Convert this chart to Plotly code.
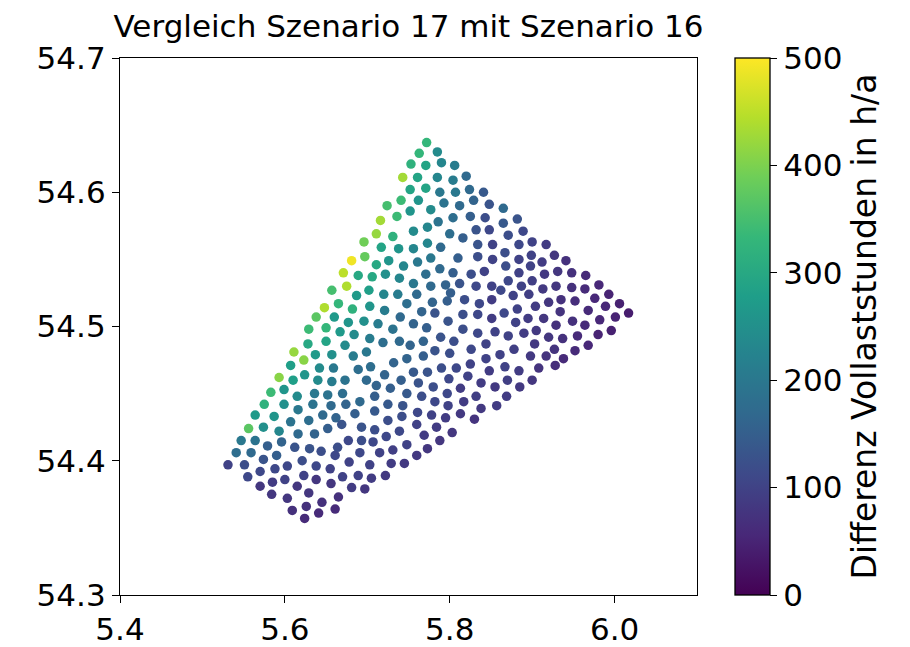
import plotly.graph_objects as go

# ---- data: turbine positions (lon, lat) and difference in full-load hours (h/a) ----
lon_north = [5.772, 5.763, 5.785, 5.753, 5.771, 5.790, 5.806, 5.743, 5.761, 5.785,
             5.804, 5.820, 5.752, 5.771, 5.788, 5.807, 5.824, 5.841, 5.724, 5.741,
             5.762, 5.793, 5.812, 5.829, 5.848, 5.752, 5.736, 5.777, 5.716, 5.786,
             5.804, 5.825, 5.843, 5.773, 5.756, 5.711, 5.731, 5.800, 5.816, 5.832,
             5.848, 5.696, 5.717, 5.738, 5.756, 5.773, 5.789, 5.834, 5.852, 5.697,
             5.711, 5.726, 5.744, 5.761, 5.777, 5.810, 5.834, 5.852, 5.689, 5.706,
             5.722, 5.771, 5.788, 5.804, 5.826, 5.842, 5.756, 5.739, 5.777, 5.795,
             5.812, 5.832, 5.851, 5.687, 5.702, 5.720, 5.737, 5.760, 5.801, 5.818,
             5.851, 5.836, 5.703, 5.721, 5.748, 5.779, 5.797, 5.766, 5.782, 5.696,
             5.713, 5.740, 5.756, 5.798, 5.816, 5.834, 5.851]
lat_north = [54.637, 54.629, 54.630, 54.621, 54.620, 54.622, 54.620, 54.611, 54.611, 54.611,
             54.609, 54.612, 54.602, 54.603, 54.600, 54.600, 54.602, 54.600, 54.590, 54.594,
             54.594, 54.592, 54.590, 54.594, 54.591, 54.586, 54.582, 54.587, 54.579, 54.578,
             54.581, 54.582, 54.581, 54.574, 54.571, 54.569, 54.567, 54.569, 54.566, 54.572,
             54.572, 54.563, 54.559, 54.558, 54.558, 54.562, 54.559, 54.561, 54.561, 54.552,
             54.546, 54.549, 54.545, 54.548, 54.551, 54.551, 54.552, 54.550, 54.538, 54.537,
             54.539, 54.539, 54.543, 54.540, 54.539, 54.541, 54.532, 54.536, 54.530, 54.531,
             54.532, 54.530, 54.530, 54.523, 54.527, 54.524, 54.524, 54.524, 54.525, 54.520,
             54.520, 54.517, 54.515, 54.512, 54.517, 54.518, 54.519, 54.511, 54.510, 54.504,
             54.502, 54.507, 54.502, 54.504, 54.509, 54.509, 54.506]
diff_north = [330, 330, 240, 320, 290, 230, 210, 430, 290, 230,
              210, 170, 290, 290, 200, 200, 170, 140, 350, 340,
              260, 190, 170, 160, 130, 260, 340, 240, 430, 190,
              180, 150, 120, 230, 240, 420, 320, 180, 150, 130,
              110, 390, 290, 260, 230, 230, 170, 130, 100, 380,
              300, 260, 230, 200, 200, 150, 120, 100, 300, 300,
              250, 180, 170, 150, 120, 100, 200, 230, 170, 160,
              130, 110, 100, 270, 280, 230, 210, 170, 150, 120,
              90, 110, 260, 210, 180, 160, 150, 160, 130, 250,
              210, 170, 160, 130, 120, 110, 90]

lon_east = [5.865, 5.882, 5.865, 5.889, 5.871, 5.900, 5.917, 5.884, 5.867, 5.899,
            5.884, 5.927, 5.912, 5.941, 5.868, 5.898, 5.884, 5.915, 5.931, 5.948,
            5.965, 5.871, 5.900, 5.887, 5.862, 5.913, 5.929, 5.948, 5.964, 5.981,
            5.877, 5.896, 5.935, 5.952, 5.976, 5.993, 5.904, 5.920, 5.866, 5.882,
            5.968, 5.989, 6.006, 6.017, 5.880, 5.895, 5.914, 5.934, 5.949, 5.929,
            5.964, 5.982, 6.001]
lat_east = [54.588, 54.580, 54.577, 54.571, 54.568, 54.563, 54.561, 54.561, 54.555, 54.553,
            54.550, 54.553, 54.548, 54.549, 54.545, 54.545, 54.540, 54.539, 54.541, 54.540,
            54.538, 54.534, 54.534, 54.530, 54.527, 54.528, 54.530, 54.529, 54.528, 54.531,
            54.523, 54.524, 54.520, 54.519, 54.521, 54.524, 54.515, 54.518, 54.510, 54.513,
            54.512, 54.515, 54.517, 54.510, 54.503, 54.506, 54.506, 54.511, 54.504, 54.501,
            54.501, 54.505, 54.507]
diff_east = [170, 130, 140, 110, 120, 100, 90, 110, 120, 100,
             100, 80, 90, 70, 120, 100, 100, 85, 80, 70,
             60, 110, 95, 100, 110, 85, 80, 70, 60, 55,
             100, 95, 70, 65, 55, 50, 90, 80, 110, 100,
             60, 55, 45, 40, 100, 90, 80, 75, 70, 70,
             60, 55, 50]

lon_edge = [5.681, 5.671, 5.675, 5.657, 5.648, 5.665, 5.682, 5.638, 5.660, 5.677]
lat_edge = [54.549, 54.540, 54.530, 54.527, 54.514, 54.517, 54.513, 54.507, 54.507, 54.503]
diff_edge = [490, 450, 440, 350, 440, 330, 320, 370, 270, 260]

lon_west = [5.629, 5.650, 5.667, 5.684, 5.611, 5.628, 5.623, 5.637, 5.650, 5.657,
            5.673, 5.683, 5.607, 5.624, 5.642, 5.659, 5.593, 5.610, 5.640, 5.657,
            5.673, 5.583, 5.599, 5.615, 5.636, 5.652, 5.670, 5.575, 5.599, 5.616,
            5.634, 5.656, 5.674, 5.564, 5.587, 5.607, 5.629, 5.646, 5.662, 5.685,
            5.556, 5.574, 5.593, 5.616, 5.636, 5.652, 5.669, 5.547, 5.564, 5.579,
            5.596, 5.612, 5.630, 5.644, 5.664, 5.677, 5.541, 5.559, 5.574, 5.590,
            5.621, 5.638, 5.655, 5.661, 5.678, 5.531, 5.551, 5.570, 5.588, 5.603,
            5.623, 5.555, 5.585, 5.570, 5.600, 5.615, 5.656, 5.670, 5.681, 5.638,
            5.584, 5.603, 5.629, 5.645, 5.665, 5.609, 5.626, 5.641, 5.661, 5.624]
lat_west = [54.498, 54.499, 54.496, 54.494, 54.481, 54.487, 54.475, 54.479, 54.489, 54.479,
            54.486, 54.478, 54.471, 54.464, 54.469, 54.469, 54.462, 54.460, 54.460, 54.459,
            54.460, 54.451, 54.453, 54.448, 54.450, 54.449, 54.450, 54.442, 54.442, 54.438,
            54.442, 54.441, 54.442, 54.434, 54.433, 54.429, 54.430, 54.434, 54.432, 54.435,
            54.424, 54.425, 54.422, 54.420, 54.420, 54.424, 54.427, 54.415, 54.415, 54.411,
            54.414, 54.410, 54.409, 54.407, 54.410, 54.415, 54.406, 54.406, 54.401, 54.404,
            54.400, 54.396, 54.394, 54.404, 54.399, 54.397, 54.397, 54.392, 54.394, 54.396,
            54.389, 54.388, 54.384, 54.381, 54.386, 54.381, 54.383, 54.388, 54.380, 54.386,
            54.375, 54.372, 54.376, 54.369, 54.373, 54.363, 54.366, 54.361, 54.364, 54.357]
diff_west = [340, 330, 270, 240, 420, 300, 410, 270, 290, 250,
             240, 210, 280, 260, 240, 200, 410, 280, 240, 210,
             190, 340, 260, 240, 200, 190, 180, 320, 250, 200,
             190, 170, 160, 270, 260, 190, 180, 170, 160, 150,
             370, 250, 230, 170, 160, 150, 130, 200, 190, 150,
             160, 130, 130, 120, 120, 110, 180, 170, 130, 150,
             120, 110, 100, 110, 100, 100, 120, 110, 110, 110,
             100, 110, 90, 80, 100, 80, 80, 100, 90, 80,
             80, 80, 80, 70, 70, 70, 70, 60, 60, 60]

lon_centre = [5.731, 5.772, 5.816, 5.834, 5.855, 5.703, 5.719, 5.739, 5.752, 5.768,
              5.789, 5.805, 5.826, 5.844, 5.699, 5.732, 5.748, 5.768, 5.782, 5.800,
              5.844, 5.689, 5.704, 5.721, 5.756, 5.773, 5.790, 5.808, 5.825, 5.848,
              5.699, 5.711, 5.728, 5.741, 5.762, 5.780, 5.799, 5.822, 5.838, 5.855,
              5.691, 5.709, 5.748, 5.766, 5.797, 5.813, 5.832, 5.709, 5.725, 5.743,
              5.782, 5.798, 5.817, 5.838, 5.693, 5.725, 5.742, 5.761, 5.778, 5.795,
              5.813, 5.830, 5.709, 5.739, 5.760, 5.784, 5.803, 5.693, 5.707, 5.723,
              5.748, 5.769, 5.788, 5.773, 5.691, 5.715, 5.731, 5.760, 5.703, 5.729,
              5.745, 5.689, 5.705, 5.722, 5.697]
lat_centre = [54.498, 54.499, 54.498, 54.495, 54.496, 54.491, 54.488, 54.489, 54.486, 54.489,
              54.492, 54.489, 54.483, 54.487, 54.481, 54.473, 54.476, 54.478, 54.482, 54.480,
              54.476, 54.468, 54.470, 54.464, 54.466, 54.466, 54.469, 54.469, 54.472, 54.467,
              54.460, 54.456, 54.454, 54.460, 54.458, 54.455, 54.461, 54.463, 54.458, 54.455,
              54.444, 54.448, 54.450, 54.448, 54.450, 54.454, 54.448, 54.437, 54.442, 54.441,
              54.444, 54.441, 54.444, 54.439, 54.425, 54.430, 54.433, 54.436, 54.434, 54.432,
              54.435, 54.431, 54.423, 54.422, 54.427, 54.425, 54.421, 54.415, 54.414, 54.418,
              54.412, 54.419, 54.415, 54.409, 54.406, 54.406, 54.408, 54.404, 54.397, 54.398,
              54.398, 54.389, 54.387, 54.389, 54.379]
diff_centre = [190, 150, 120, 110, 100, 210, 180, 170, 160, 160,
               130, 120, 110, 100, 200, 160, 160, 150, 130, 120,
               100, 180, 180, 160, 140, 130, 120, 110, 100, 90,
               170, 160, 150, 150, 130, 120, 110, 100, 90, 85,
               170, 150, 140, 120, 110, 90, 95, 140, 140, 130,
               110, 100, 90, 85, 130, 120, 120, 110, 100, 90,
               85, 75, 120, 110, 100, 90, 80, 120, 110, 110,
               100, 90, 80, 80, 110, 100, 95, 85, 100, 90,
               85, 100, 90, 85, 80]

lon_south = [5.996, 5.980, 5.871, 5.890, 5.905, 5.920, 5.937, 5.955, 5.968, 5.952,
             5.927, 5.903, 5.878, 5.861, 5.898, 5.917, 5.938, 5.928, 5.908, 5.884,
             5.867, 5.870, 5.900, 5.885, 5.869, 5.857]
lat_south = [54.497, 54.494, 54.493, 54.495, 54.497, 54.492, 54.491, 54.493, 54.486, 54.482,
             54.483, 54.487, 54.483, 54.479, 54.478, 54.478, 54.476, 54.471, 54.469, 54.467,
             54.470, 54.460, 54.460, 54.455, 54.448, 54.441]
diff_south = [45, 50, 100, 90, 85, 80, 70, 60, 55, 60,
              75, 85, 95, 100, 85, 75, 60, 65, 75, 90,
              100, 95, 80, 85, 90, 90]

x_ticks = [5.4, 5.6, 5.8, 6.0]
x_tick_labels = ["5.4", "5.6", "5.8", "6.0"]
y_ticks = [54.3, 54.4, 54.5, 54.6, 54.7]
y_tick_labels = ["54.3", "54.4", "54.5", "54.6", "54.7"]
cbar_ticks = [0, 100, 200, 300, 400, 500]

title_text = "Vergleich Szenario 17 mit Szenario 16"
cbar_title = "Differenz Vollaststunden in h/a"

lon = lon_north + lon_east + lon_edge + lon_west + lon_centre + lon_south
lat = lat_north + lat_east + lat_edge + lat_west + lat_centre + lat_south
diff = diff_north + diff_east + diff_edge + diff_west + diff_centre + diff_south

FONT = "DejaVu Sans"
TICK_SIZE = 31
FIG_W, FIG_H = 902, 639  # page body adds an 8 px offset

fig = go.Figure(go.Scatter(
    x=lon, y=lat, mode="markers",
    marker=dict(
        size=9.5, color=diff, colorscale="Viridis", cmin=0, cmax=500,
        line=dict(width=0),
        colorbar=dict(
            x=1.066, xanchor="left", y=0.5, yanchor="middle",
            len=1, lenmode="fraction", thickness=35, thicknessmode="pixels",
            xpad=0, ypad=0, outlinewidth=1.3, outlinecolor="black",
            ticks="outside", ticklen=7, tickwidth=1.3, tickcolor="black",
            tickvals=cbar_ticks, tickfont=dict(family=FONT, size=TICK_SIZE, color="black"),
            title=dict(text=cbar_title, side="right",
                       font=dict(family=FONT, size=33, color="black")),
        ),
    ),
    hoverinfo="skip",
))

axis_common = dict(
    showline=True, linecolor="black", linewidth=1.3, mirror=True,
    showgrid=False, zeroline=False, ticks="outside", ticklen=7, tickwidth=1.3,
    tickcolor="black", tickfont=dict(family=FONT, size=TICK_SIZE, color="black"),
)

fig.update_layout(
    width=FIG_W, height=FIG_H,
    margin=dict(l=112, r=213, t=50, b=52, autoexpand=False),
    plot_bgcolor="white", paper_bgcolor="white",
    font=dict(family=FONT, color="black"),
    showlegend=False,
    title=dict(text=title_text, x=0.5, xref="paper", xanchor="center",
               y=1 - 18 / FIG_H, yref="container", yanchor="middle",
               font=dict(family=FONT, size=31, color="black")),
    xaxis=dict(range=[5.4, 6.1], tickvals=x_ticks, ticktext=x_tick_labels, **axis_common),
    yaxis=dict(range=[54.3, 54.7], tickvals=y_ticks, ticktext=y_tick_labels, **axis_common),
)

fig.write_html("out.html")
